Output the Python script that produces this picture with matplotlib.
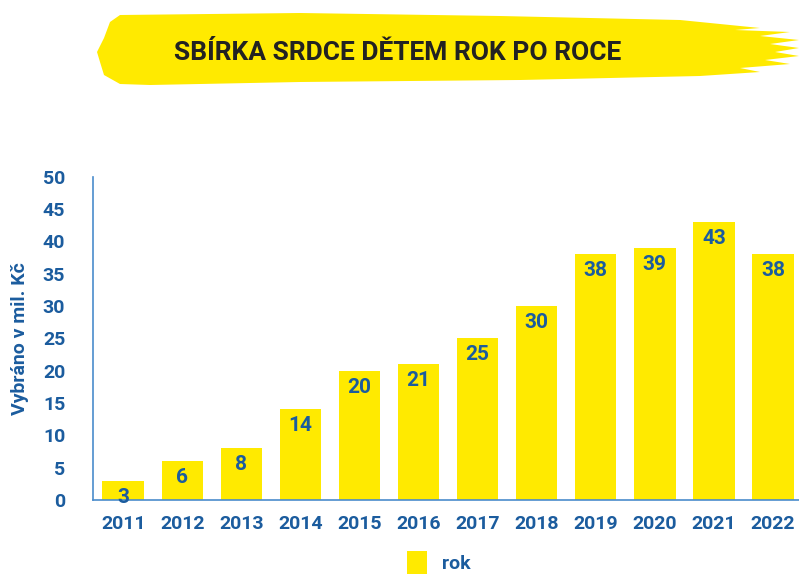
import matplotlib
matplotlib.use("Agg")
import matplotlib.pyplot as plt
from matplotlib.patches import Polygon
from matplotlib import font_manager

# data
years = ["2011", "2012", "2013", "2014", "2015", "2016",
         "2017", "2018", "2019", "2020", "2021", "2022"]
values = [3, 6, 8, 14, 20, 21, 25, 30, 38, 39, 43, 38]
y_ticks = [0, 5, 10, 15, 20, 25, 30, 35, 40, 45, 50]

TITLE = "SBÍRKA SRDCE DĚTEM ROK PO ROCE"
Y_LABEL = "Vybráno v mil. Kč"
LEGEND_LABEL = "rok"

YELLOW = "#ffea00"
BLUE = "#1b5c9e"
AXIS_BLUE = "#4a8ccc"

names = {f.name for f in font_manager.fontManager.ttflist}
FONT = ["Liberation Sans Narrow", "Roboto", "DejaVu Sans"]
FONT = [f for f in FONT if f in names] or ["DejaVu Sans"]
plt.rcParams["font.family"] = FONT

W, H = 799, 576
fig = plt.figure(figsize=(W / 100, H / 100), dpi=100)

# brush banner behind the title (outline in pixels from top-left)
brush_px = [
    (120, 15), (300, 13), (500, 16), (680, 20), (720, 24), (760, 28),
    (735, 30), (790, 32), (760, 36), (799, 40), (770, 44), (799, 48),
    (775, 52), (799, 56), (765, 60), (790, 64), (740, 68), (760, 72),
    (700, 76), (520, 80), (300, 82), (150, 85), (120, 84), (104, 75),
    (100, 62), (97, 52), (104, 38), (110, 22),
]
brush = [(px / W, 1 - py / H) for px, py in brush_px]
fig.patches.append(Polygon(brush, closed=True, transform=fig.transFigure,
                           facecolor=YELLOW, edgecolor="none"))
fig.text(0.498, 0.908, TITLE, ha="center", va="center", fontsize=19,
         fontweight="bold", color="#222222")

ax = fig.add_axes([0.1164, 0.132, 0.8836, 0.561])
x = range(len(years))
ax.bar(x, values, width=0.7, color=YELLOW, label=LEGEND_LABEL)

for xi, v in zip(x, values):
    ax.annotate(str(v), (xi, v), xytext=(0, -5), textcoords="offset points",
                ha="center", va="top", fontsize=15, fontweight="bold",
                color=BLUE)

ax.set_xlim(-0.51, 11.44)
ax.set_ylim(0, 50)
ax.set_xticks(list(x))
ax.set_xticklabels(years)
ax.set_yticks(y_ticks)
ax.tick_params(length=0, labelsize=14, labelcolor=BLUE)
ax.tick_params(axis="x", pad=11)
ax.tick_params(axis="y", pad=20)
for lab in ax.get_xticklabels() + ax.get_yticklabels():
    lab.set_fontweight("bold")

for side in ["top", "right"]:
    ax.spines[side].set_visible(False)
for side in ["left", "bottom"]:
    ax.spines[side].set_color(AXIS_BLUE)
    ax.spines[side].set_linewidth(1.2)

ax.set_ylabel(Y_LABEL, fontsize=14, fontweight="bold", color=BLUE, labelpad=10)

leg = ax.legend(loc="upper center", bbox_to_anchor=(0.49, -0.122), frameon=False,
                fontsize=14, handlelength=1.0, handleheight=1.4,
                borderpad=0.1, handletextpad=0.8)
for t in leg.get_texts():
    t.set_color(BLUE)
    t.set_fontweight("bold")

fig.savefig("out.png", dpi=100)
